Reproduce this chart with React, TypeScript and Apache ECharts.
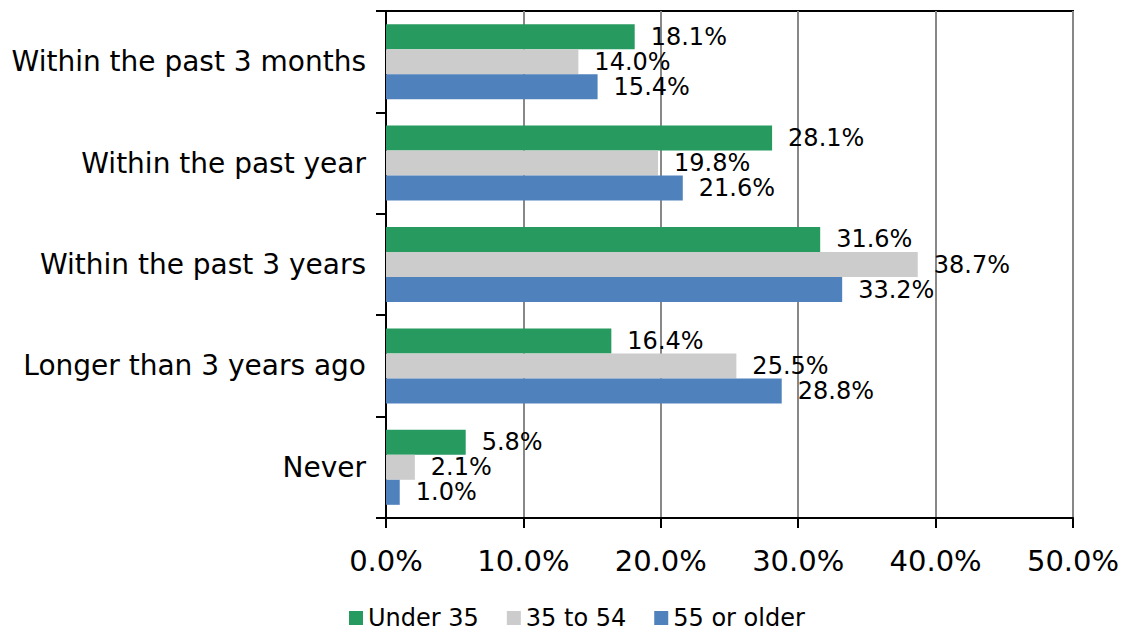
import React, { useEffect, useRef } from "react";
import * as echarts from "echarts";

const categories = [
  "Within the past 3 months",
  "Within the past year",
  "Within the past 3 years",
  "Longer than 3 years ago",
  "Never",
];
const seriesNames = ["Under 35", "35 to 54", "55 or older"];
const under35 = [18.1, 28.1, 31.6, 16.4, 5.8];
const age35to54 = [14.0, 19.8, 38.7, 25.5, 2.1];
const age55plus = [15.4, 21.6, 33.2, 28.8, 1.0];
const colors = ["#279A5F", "#CCCCCC", "#4F81BD"];

const FONT = "DejaVu Sans";

export default function App() {
  const ref = useRef<HTMLDivElement>(null);
  useEffect(() => {
    document.body.style.margin = "0";
    const chart = echarts.init(ref.current!, null, { renderer: "svg" });
    const data = [under35, age35to54, age55plus];
    chart.setOption({
      animation: false,
      textStyle: { fontFamily: FONT },
      grid: {
        left: 386,
        right: 53,
        top: 11,
        bottom: 113,
        show: true,
        borderColor: "#000",
        borderWidth: 2,
        containLabel: false,
      },
      legend: {
        top: 605,
        left: 349,
        padding: 0,
        itemWidth: 14,
        itemHeight: 14,
        itemGap: 28,
        icon: "rect",
        textStyle: { fontSize: 24, lineHeight: 26, color: "#000", fontFamily: FONT },
        data: seriesNames,
      },
      xAxis: {
        type: "value",
        min: 0,
        max: 50,
        interval: 10,
        axisLine: { show: true, lineStyle: { color: "#000", width: 2 } },
        axisTick: { show: true, length: 10, lineStyle: { color: "#000", width: 2 } },
        splitLine: { show: true, lineStyle: { color: "#888", width: 2 } },
        axisLabel: {
          fontSize: 29,
          color: "#000",
          margin: 28,
          fontFamily: FONT,
          formatter: (v: number) => v.toFixed(1) + "%",
        },
      },
      yAxis: {
        type: "category",
        inverse: true,
        data: categories,
        axisLine: { show: true, lineStyle: { color: "#000", width: 2 } },
        axisTick: { show: true, length: 10, lineStyle: { color: "#000", width: 2 } },
        axisLabel: { fontSize: 28, color: "#000", margin: 20, fontFamily: FONT },
      },
      series: seriesNames.map((name, i) => ({
        name,
        type: "bar",
        data: data[i],
        barGap: "0%",
        barCategoryGap: "26%",
        itemStyle: { color: colors[i] },
        label: {
          show: true,
          position: "right",
          distance: 16,
          fontSize: 24,
          color: "#000",
          fontFamily: FONT,
          formatter: (p: any) => Number(p.value).toFixed(1) + "%",
        },
      })),
    });
    return () => chart.dispose();
  }, []);
  return <div ref={ref} style={{ width: 1126, height: 631 }} />;
}
